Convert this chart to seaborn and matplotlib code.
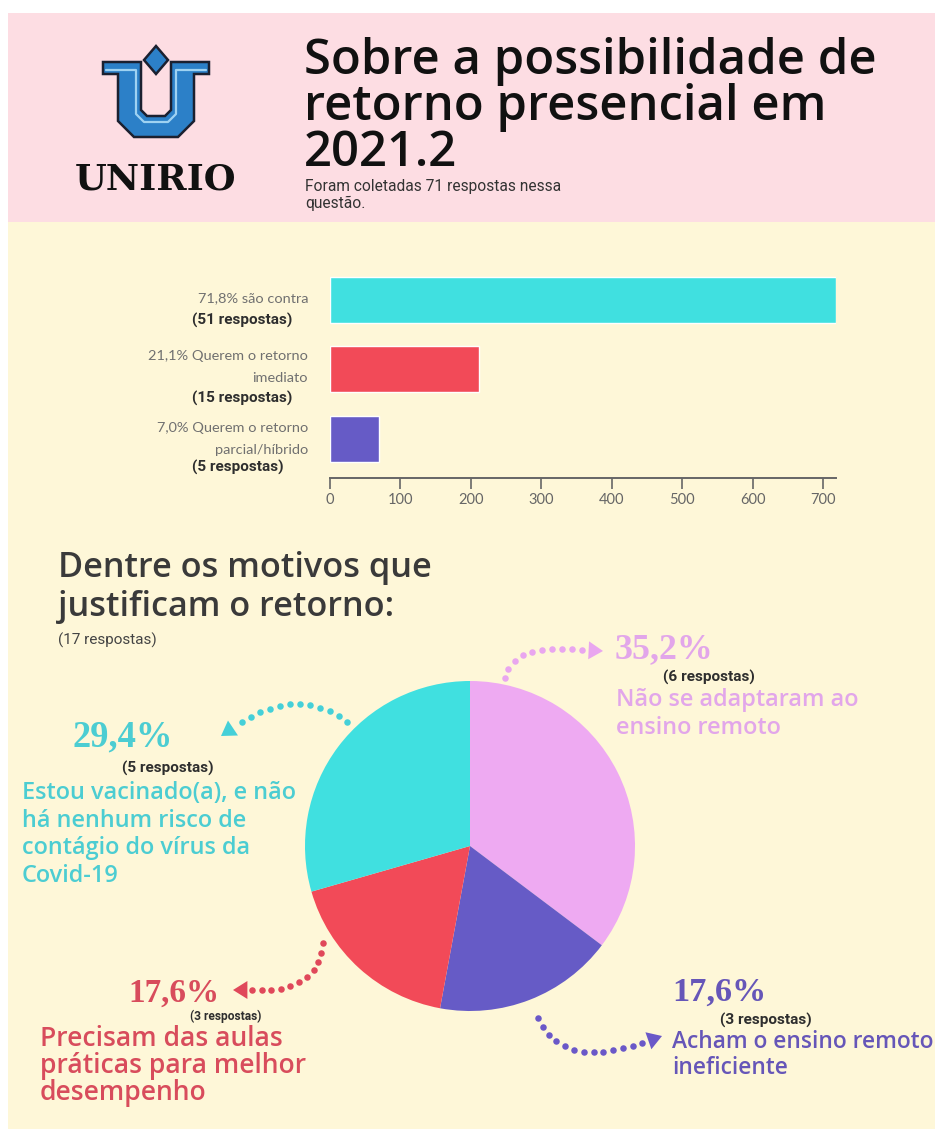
import matplotlib
matplotlib.use("Agg")
import matplotlib.pyplot as plt
import seaborn as sns
import numpy as np
import pandas as pd
from matplotlib.patches import Rectangle, Polygon

# ---------------- data ----------------
title_lines = ["Sobre a possibilidade de", "retorno presencial em", "2021.2"]
subtitle_lines = ["Foram coletadas 71 respostas nessa", "questão."]

bar_categories = ["são contra", "Querem o retorno imediato", "Querem o retorno parcial/híbrido"]
bar_values = [718, 211, 70]          # percentage x 10
bar_pct_text = ["71,8%", "21,1%", "7,0%"]
bar_counts = [51, 15, 5]
bar_label_lines = [["71,8% são contra"],
                   ["21,1% Querem o retorno", "imediato"],
                   ["7,0% Querem o retorno", "parcial/híbrido"]]
bar_colors = ["#40e0e0", "#f24a58", "#665bc6"]
x_ticks = [0, 100, 200, 300, 400, 500, 600, 700]

section_title = ["Dentre os motivos que", "justificam o retorno:"]
section_sub = "(17 respostas)"

pie_labels = ["Não se adaptaram ao ensino remoto",
              "Acham o ensino remoto ineficiente",
              "Precisam das aulas práticas para melhor desempenho",
              "Estou vacinado(a), e não há nenhum risco de contágio do vírus da Covid-19"]
pie_pct = [35.2, 17.6, 17.6, 29.4]
pie_pct_text = ["35,2%", "17,6%", "17,6%", "29,4%"]
pie_counts = [6, 3, 3, 5]
pie_colors = ["#eeaaf2", "#665bc6", "#f24a58", "#40e0e0"]
pie_text_colors = ["#e2a6ea", "#6656b8", "#d84c5c", "#4ccdd2"]
pie_desc_lines = [["Não se adaptaram ao", "ensino remoto"],
                  ["Acham o ensino remoto", "ineficiente"],
                  ["Precisam das aulas", "práticas para melhor", "desempenho"],
                  ["Estou vacinado(a), e não", "há nenhum risco de", "contágio do vírus da", "Covid-19"]]

# ---------------- figure ----------------
W, H = 945, 1129
sns.set_theme(style="white")
plt.rcParams['font.family'] = ['DejaVu Sans']
fig = plt.figure(figsize=(W / 100, H / 100), dpi=100, facecolor="white")
renderer = fig.canvas.get_renderer()

bg = fig.add_axes([0, 0, 1, 1], zorder=0)
bg.set_xlim(0, W)
bg.set_ylim(H, 0)
bg.axis("off")

PINK_BG = "#fddde3"
CREAM_BG = "#fef7d8"
bg.add_patch(Rectangle((8, 13), 927, 209, color=PINK_BG, lw=0, zorder=0))
bg.add_patch(Rectangle((8, 222), 927, H - 222, color=CREAM_BG, lw=0, zorder=0))


def put(s, x, y, width=None, size=10, ha="left", va="center", **kw):
    t = bg.text(x, y, s, ha=ha, va=va, fontsize=size, zorder=5, **kw)
    if width:
        w = t.get_window_extent(renderer).width
        t.set_fontsize(size * width / w)
    return t


# ---------------- logo ----------------
blue = "#2c80c8"
dark = "#1b2030"
upts = [(103, 62), (141, 62), (141, 110), (147, 116), (165, 116), (171, 110), (171, 62),
        (209, 62), (209, 74), (194, 74), (194, 121), (178, 137), (134, 137), (118, 121),
        (118, 74), (103, 74)]
bg.add_patch(Polygon(upts, closed=True, facecolor=blue, edgecolor=dark, lw=1.8, zorder=3))
stripe = [(106, 70), (136, 70), (136, 114), (144, 122), (168, 122), (176, 114), (176, 70), (206, 70)]
bg.plot([p[0] for p in stripe], [p[1] for p in stripe], color="#9fd2f2", lw=1.6, zorder=4)
dia = [(156, 46), (168, 60), (156, 74), (144, 60)]
bg.add_patch(Polygon(dia, closed=True, facecolor=blue, edgecolor=dark, lw=1.8, zorder=3))
put("UNIRIO", 75, 189, width=162, va="baseline", family=["DejaVu Serif"],
    weight="bold", color="#111111")

# ---------------- header text ----------------
t = put(title_lines[0], 304, 74, width=572, va="baseline", family=["Open Sans", "DejaVu Sans"],
        weight="semibold", color="#111111")
fs = t.get_fontsize()
put(title_lines[1], 304, 120, size=fs, va="baseline", family=["Open Sans", "DejaVu Sans"],
    weight="semibold", color="#111111")
put(title_lines[2], 304, 166, size=fs, va="baseline", family=["Open Sans", "DejaVu Sans"],
    weight="semibold", color="#111111")
narrow = ["Liberation Sans Narrow", "Roboto", "DejaVu Sans"]
t = put(subtitle_lines[0], 305, 186, width=255, family=narrow, color="#333333")
put(subtitle_lines[1], 305, 203, size=t.get_fontsize(), family=narrow, color="#333333")

# ---------------- bar chart ----------------
axb = fig.add_axes([330 / W, 1 - 478 / H, 506 / W, 213 / H], zorder=2)
axb.patch.set_alpha(0)
df_bar = pd.DataFrame({"cat": bar_categories, "val": bar_values})
sns.barplot(data=df_bar, x="val", y="cat", hue="cat", palette=bar_colors, orient="h",
            width=0.66, legend=False, ax=axb, saturation=1)
axb.set_xlim(0, max(bar_values))
axb.set_ylim(2.56, -0.5)
axb.set_xticks(x_ticks)
axb.set_xticklabels([str(v) for v in x_ticks], family=["Lato", "DejaVu Sans"], fontsize=10.5,
                    color="#666666")
axb.set_yticks([])
axb.set_xlabel("")
axb.set_ylabel("")
for side in ["left", "right", "top"]:
    axb.spines[side].set_visible(False)
axb.spines["bottom"].set_color("#666666")
axb.spines["bottom"].set_linewidth(1.4)
axb.tick_params(axis="x", direction="out", length=8, width=1.2, color="#666666", pad=3,
                bottom=True)

light = ["Lato", "DejaVu Sans"]
LCOL = "#707070"
t = put(bar_label_lines[1][0], 308, 356, width=160, ha="right", family=light, color=LCOL)
lfs = t.get_fontsize()
put(bar_label_lines[0][0], 308, 298, size=lfs, ha="right", family=light, color=LCOL)
put(bar_label_lines[1][1], 308, 378, size=lfs, ha="right", family=light, color=LCOL)
put(bar_label_lines[2][0], 308, 428, size=lfs, ha="right", family=light, color=LCOL)
put(bar_label_lines[2][1], 308, 450, size=lfs, ha="right", family=light, color=LCOL)
t = put(f"({bar_counts[0]} respostas)", 192, 320, width=100, family=narrow, weight="bold", color="#2e2e2e")
bfs = t.get_fontsize()
put(f"({bar_counts[1]} respostas)", 192, 398, size=bfs, family=narrow, weight="bold", color="#2e2e2e")
put(f"({bar_counts[2]} respostas)", 192, 467, size=bfs, family=narrow, weight="bold", color="#2e2e2e")

# ---------------- section title ----------------
t = put(section_title[0], 58, 568, width=374, family=["Open Sans", "DejaVu Sans"],
        weight="semibold", color="#3a3a3a")
put(section_title[1], 58, 607, size=t.get_fontsize(), family=["Open Sans", "DejaVu Sans"],
    weight="semibold", color="#3a3a3a")
put(section_sub, 58, 640, width=99, family=narrow, color="#444444")

# ---------------- pie ----------------
cx, cy, r = 470, 846, 165
axp = fig.add_axes([(cx - r) / W, 1 - (cy + r) / H, 2 * r / W, 2 * r / H], zorder=2)
axp.pie(pie_pct, colors=pie_colors, startangle=90, counterclock=False,
        wedgeprops=dict(linewidth=0))
axp.set_xlim(-1, 1)
axp.set_ylim(-1, 1)
axp.set_aspect("equal")
axp.axis("off")

serif = ["Liberation Serif", "DejaVu Serif"]
rounded = ["Open Sans", "DejaVu Sans"]

# positions per slice: pct (x, y, w), count (x, y, w), desc (x, first y, w, line step)
pie_layout = [
    dict(p=(615, 650, 98), c=(663, 677, 92), d=(616, 700, 244, 28)),
    dict(p=(672, 992, 93), c=(720, 1020, 92), d=(672, 1042, 263, 26)),
    dict(p=(128, 993, 90), c=(190, 1016, 72), d=(40, 1039, 267, 27)),
    dict(p=(72, 737, 100), c=(122, 768, 91), d=(22, 793, 276, 27.7)),
]
longest = [0, 0, 1, 0]
for i, lay in enumerate(pie_layout):
    col = pie_text_colors[i]
    px, py, pw = lay["p"]
    put(pie_pct_text[i], px, py, width=pw, family=serif, weight="bold", color=col)
    qx, qy, qw = lay["c"]
    put(f"({pie_counts[i]} respostas)", qx, qy, width=qw, family=narrow, weight="bold", color="#2e2e2e")
    dx, dy, dw, step = lay["d"]
    lines = pie_desc_lines[i]
    t = put(lines[longest[i]], dx, dy + step * longest[i], width=dw, family=rounded,
            weight="semibold", color=col)
    dfs = t.get_fontsize()
    for j, ln in enumerate(lines):
        if j != longest[i]:
            put(ln, dx, dy + step * j, size=dfs, family=rounded, weight="semibold", color=col)


# ---------------- dotted arrows ----------------
def dotted_arrow(p0, pc, p1, tip, color, spacing=9.5, dot=22, head=9):
    p0, pc, p1, tip = map(np.array, (p0, pc, p1, tip))
    tt = np.linspace(0, 1, 400)
    pts = ((1 - tt)[:, None] ** 2) * p0 + (2 * (1 - tt) * tt)[:, None] * pc + (tt[:, None] ** 2) * p1
    seg = np.r_[0, np.cumsum(np.hypot(*np.diff(pts, axis=0).T))]
    n = int(seg[-1] // spacing)
    targets = np.linspace(0, seg[-1], n + 1)
    xs = np.interp(targets, seg, pts[:, 0])
    ys = np.interp(targets, seg, pts[:, 1])
    bg.scatter(xs, ys, s=dot, color=color, lw=0, zorder=4)
    d = tip - p1
    d = d / np.hypot(*d)
    nrm = np.array([-d[1], d[0]])
    base = tip - d * head * 1.6
    tri = [tip, base + nrm * head, base - nrm * head]
    bg.add_patch(Polygon(tri, closed=True, color=color, lw=0, zorder=4))


dotted_arrow((505, 678), (512, 643), (582, 650), (603, 651), "#e9a6ef")
dotted_arrow((347, 722), (300, 686), (242, 722), (221, 736), "#45d0d8")
dotted_arrow((323, 943), (318, 994), (252, 990), (233, 990), "#e0485a")
dotted_arrow((538, 1018), (562, 1070), (642, 1043), (662, 1036), "#6a58c8")

fig.savefig("out.png", dpi=100, facecolor="white")
